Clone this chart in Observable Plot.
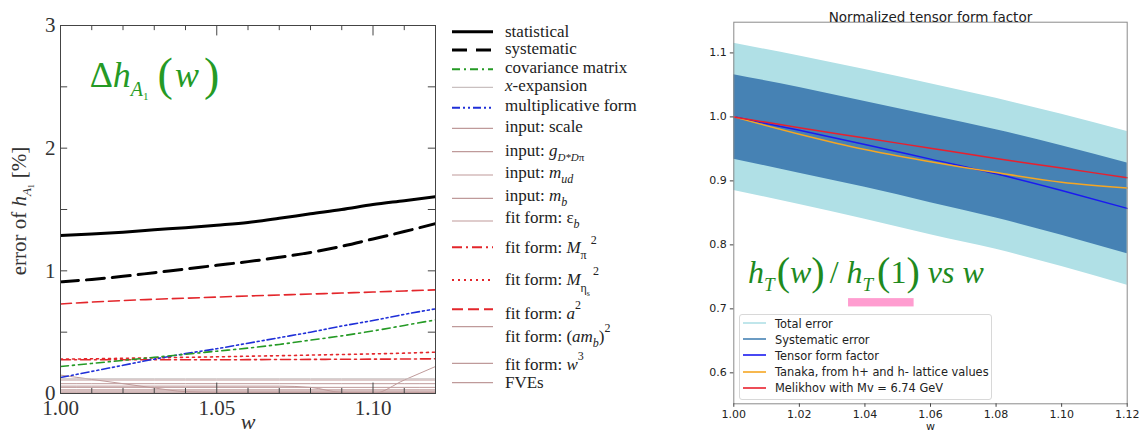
<!DOCTYPE html>
<html><head><meta charset="utf-8">
<script src="https://cdn.jsdelivr.net/npm/d3@7"></script>
<script src="https://cdn.jsdelivr.net/npm/@observablehq/plot@0.6"></script>
<style>
body{margin:0;background:#fff;}
#wrap{position:relative;width:1146px;height:432px;overflow:hidden;background:#fff;}
.abs{position:absolute;top:0;}
#rlegend{position:absolute;left:739px;top:314px;width:251px;height:83px;border:1px solid #d8d8d8;border-radius:3px;background:rgba(255,255,255,0.85);font-family:'DejaVu Sans',sans-serif;font-size:11.4px;color:#222;}
#rlegend .row{height:16.2px;line-height:16.2px;white-space:nowrap;}
#rlegend .sw{display:inline-block;width:23px;height:0;border-top:2px solid;vertical-align:middle;margin-left:3px;margin-right:9px;position:relative;top:-1px;}
</style></head><body><div id="wrap"></div>
<script>
// ---------- LEFT PANEL DATA ----------
const wLeft = [1.00,1.01,1.02,1.03,1.04,1.05,1.06,1.07,1.08,1.09,1.10,1.11,1.12];
const statistical      = [1.288,1.300,1.315,1.334,1.352,1.372,1.394,1.428,1.465,1.500,1.540,1.572,1.605];
const systematic       = [0.910,0.930,0.955,0.985,1.015,1.045,1.075,1.110,1.150,1.200,1.260,1.320,1.385];
const covarianceMatrix = [0.220,0.245,0.270,0.295,0.320,0.345,0.370,0.400,0.435,0.470,0.510,0.555,0.600];
const xExpansion       = [0.120,0.120,0.120,0.120,0.120,0.120,0.120,0.120,0.120,0.120,0.120,0.120,0.120];
const multiplicative   = [0.130,0.180,0.230,0.280,0.325,0.365,0.410,0.455,0.500,0.550,0.595,0.645,0.690];
const inputScale       = [0.110,0.110,0.110,0.110,0.110,0.110,0.110,0.110,0.110,0.110,0.110,0.110,0.110];
const inputG           = [0.030,0.030,0.030,0.030,0.030,0.030,0.030,0.030,0.030,0.030,0.030,0.030,0.030];
const inputMud         = [0.020,0.020,0.020,0.020,0.020,0.020,0.020,0.020,0.020,0.020,0.020,0.020,0.020];
const inputMb          = [0.050,0.050,0.050,0.050,0.050,0.050,0.050,0.050,0.050,0.050,0.050,0.050,0.050];
const fitEpsB          = [0.080,0.080,0.080,0.080,0.080,0.080,0.080,0.080,0.080,0.080,0.080,0.080,0.080];
const fitMpi2          = [0.275,0.275,0.275,0.275,0.275,0.275,0.276,0.277,0.278,0.279,0.280,0.281,0.283];
const fitMetas2        = [0.280,0.283,0.287,0.291,0.295,0.299,0.304,0.308,0.313,0.318,0.323,0.329,0.337];
const fitA2            = [0.730,0.745,0.758,0.768,0.777,0.786,0.795,0.803,0.811,0.819,0.827,0.836,0.845];
const fitAmb2          = [0.150,0.115,0.080,0.045,0.015,0.010,0.010,0.010,0.010,0.010,0.010,0.010,0.010];
const fitW3            = [0.010,0.010,0.010,0.010,0.010,0.010,0.010,0.010,0.010,0.010,0.000,0.110,0.220];
const fves             = [0.060,0.060,0.060,0.060,0.060,0.060,0.060,0.060,0.050,0.010,0.010,0.010,0.010];

const leftKeys = ["statistical","systematic","covarianceMatrix","xExpansion","multiplicative","inputScale","inputG","inputMud","inputMb","fitEpsB","fitMpi2","fitMetas2","fitA2","fitAmb2","fitW3","fves"];
const leftValues = {statistical, systematic, covarianceMatrix, xExpansion, multiplicative, inputScale, inputG, inputMud, inputMb, fitEpsB, fitMpi2, fitMetas2, fitA2, fitAmb2, fitW3, fves};

const xLabelsLeft = [1.00, 1.05, 1.10];
const xMinorLeft = [1.01,1.02,1.03,1.04,1.06,1.07,1.08,1.09,1.11];
const yLabelsLeft = [0, 1, 2, 3];
const yTicksLeft = [0.5, 1, 1.5, 2, 2.5];

// ---------- RIGHT PANEL DATA ----------
const wRight   = [1.00,1.02,1.04,1.06,1.08,1.10,1.12];
const totalHi  = [1.115,1.095,1.074,1.052,1.029,1.004,0.977];
const totalLo  = [0.885,0.863,0.840,0.816,0.793,0.766,0.737];
const sysHi    = [1.066,1.046,1.024,1.002,0.980,0.955,0.928];
const sysLo    = [0.934,0.912,0.890,0.866,0.842,0.815,0.786];
const tensorFF = [1.000,0.979,0.957,0.934,0.911,0.885,0.857];
const tanaka   = [1.000,0.973,0.949,0.930,0.913,0.898,0.889];
const melikhov = [1.000,0.983,0.967,0.951,0.935,0.920,0.905];
const xTicksRight = [1.00,1.02,1.04,1.06,1.08,1.10,1.12];
const yTicksRight = [0.6,0.7,0.8,0.9,1.0,1.1];
const highlightW = [1.035, 1.055];
const highlightH = [0.703, 0.716];
const rightLegendLabels = ["Total error","Systematic error","Tensor form factor","Tanaka, from h+ and h- lattice values","Melikhov with Mv = 6.74 GeV"];

// ---------- styles ----------
const RED = "#e3262b", GREEN = "#259a25", BLUE = "#1f2fd8", BROWN = "#bf9a9a", GREY = "#c9c0c0";
const leftStyles = {
  statistical:{stroke:"#000", w:3, dash:null},
  systematic:{stroke:"#000", w:3, dash:"18,8"},
  covarianceMatrix:{stroke:GREEN, w:1.6, dash:"8,4,2,4"},
  xExpansion:{stroke:GREY, w:1, dash:null},
  multiplicative:{stroke:BLUE, w:1.6, dash:"8,3,2,3,2,3"},
  inputScale:{stroke:BROWN, w:1, dash:null},
  inputG:{stroke:BROWN, w:1, dash:null},
  inputMud:{stroke:BROWN, w:1, dash:null},
  inputMb:{stroke:BROWN, w:1, dash:null},
  fitEpsB:{stroke:BROWN, w:1, dash:null},
  fitMpi2:{stroke:RED, w:1.6, dash:"10,4,2,4"},
  fitMetas2:{stroke:RED, w:1.6, dash:"2,4"},
  fitA2:{stroke:RED, w:1.6, dash:"11,5"},
  fitAmb2:{stroke:BROWN, w:1, dash:null},
  fitW3:{stroke:BROWN, w:1, dash:null},
  fves:{stroke:BROWN, w:1, dash:null}
};
const legendDash = {systematic:"15,9"};

const I = s => `<tspan font-style="italic">${s}</tspan>`;
const SUB = (s, fs=11, sh=-4) => `<tspan baseline-shift="${sh}" font-size="${fs}">${s}</tspan>`;
const SUP = (s, fs=11, sh=8) => `<tspan baseline-shift="${sh}" font-size="${fs}">${s}</tspan>`;
const leftLabels = [
  "statistical",
  "systematic",
  "covariance matrix",
  I("x") + "-expansion",
  "multiplicative form",
  "input: scale",
  "input: " + I("g") + SUB(I("D*D") + "π", 11, -5),
  "input: " + I("m") + SUB(I("ud"), 12, -5),
  "input: " + I("m") + SUB(I("b"), 12, -5),
  "fit form: ε" + SUB(I("b"), 12, -5),
  "fit form: " + I("M") + SUB("π", 12, -6) + `<tspan dx="4" baseline-shift="9" font-size="12">2</tspan>`,
  "fit form: " + I("M") + SUB("η", 12, -7) + SUB("s", 8, -11) + `<tspan dx="3" baseline-shift="10" font-size="12">2</tspan>`,
  "fit form: " + I("a") + SUP("2", 12, 10),
  "fit form: (" + I("am") + SUB(I("b"), 12, -5) + ")" + SUP("2", 12, 10),
  "fit form: " + I("w") + SUP("3", 12, 10),
  "FVEs"
];
const legendLineY = [31.7,50,69.3,87.3,107.7,128.3,151.7,175,198.3,221,247.3,280,309.3,326.7,363.3,382.7];
const legendTextY = [37.3,54.3,73.3,90.7,110.7,132.3,155.7,178.3,200.5,223.3,252.7,285,319,342.3,370,388.3];

// ---------- LEFT PLOT ----------
const leftData = leftKeys.flatMap(k => leftValues[k].map((v, i) => ({w: wLeft[i], v, k})));
const drawOrder = leftKeys.slice().reverse();
const leftLines = drawOrder.map(k => {
  const s = leftStyles[k];
  return Plot.line(leftData.filter(d => d.k === k), {x:"w", y:"v", stroke:s.stroke, strokeWidth:s.w, strokeDasharray:s.dash, curve:"monotone-x", clip:true});
});
const TK = "#444";
const left = Plot.plot({
  width:450, height:432, marginLeft:60, marginRight:15, marginTop:25, marginBottom:39,
  x:{domain:[1.00,1.12]}, y:{domain:[0,3]},
  style:{fontFamily:"'Liberation Serif', serif", fontSize:"20px", color:"#333", background:"transparent", overflow:"visible"},
  marks:[
    ...leftLines,
    Plot.ruleX(xMinorLeft, {x:d=>d, y1:0, y2:0.042, stroke:TK}),
    Plot.ruleX(xLabelsLeft, {x:d=>d, y1:0, y2:0.085, stroke:TK}),
    Plot.ruleX(xMinorLeft, {x:d=>d, y1:3, y2:2.958, stroke:TK}),
    Plot.ruleX(xLabelsLeft, {x:d=>d, y1:3, y2:2.915, stroke:TK}),
    Plot.ruleY(yTicksLeft, {y:d=>d, x1:1.00, x2:1.0023, stroke:TK}),
    Plot.ruleY(yTicksLeft, {y:d=>d, x1:1.12, x2:1.1177, stroke:TK}),
    Plot.frame({stroke:TK}),
    Plot.axisX({ticks:xLabelsLeft, tickFormat:d3.format(".2f"), tickSize:0, tickPadding:7, label:null, fontSize:21}),
    Plot.axisY({ticks:yLabelsLeft, tickFormat:d3.format("d"), tickSize:0, tickPadding:5, label:null, fontSize:21}),
    Plot.text(["w"], {frameAnchor:"bottom", dy:35, fontStyle:"italic", fontSize:22})
  ]
});
{
  const sx = left.scale("x"), sy = left.scale("y");
  const g = d3.select(left).append("g").attr("font-family","'Liberation Serif', serif").attr("text-anchor","start");
  g.append("text").attr("x", sx.apply(1.0095)).attr("y", sy.apply(2.494))
    .attr("font-size", 36).attr("fill", GREEN)
    .html("Δ" + I("h") + `<tspan baseline-shift="-9" font-size="20" font-style="italic">A</tspan><tspan baseline-shift="-13" font-size="11">1</tspan><tspan font-size="46" dx="9" baseline-shift="-3">(</tspan><tspan font-style="italic" dx="2">w</tspan><tspan font-size="46" dx="5" baseline-shift="-3">)</tspan>`);
  g.append("text").attr("transform", "translate(26,211) rotate(-90)").attr("text-anchor","middle")
    .attr("font-size", 21).attr("fill", "#333")
    .html("error of " + I("h") + `<tspan baseline-shift="-5" font-size="13" font-style="italic">A</tspan><tspan baseline-shift="-8" font-size="8">1</tspan><tspan dx="6">[%]</tspan>`);
}

// ---------- LEFT LEGEND ----------
const leg = d3.create("svg").attr("width", 250).attr("height", 432)
  .attr("font-family","'Liberation Serif', serif").attr("font-size", 17).attr("fill","#222");
leftKeys.forEach((k, i) => {
  const s = leftStyles[k];
  leg.append("line").attr("x1", 12).attr("x2", 53).attr("y1", legendLineY[i]).attr("y2", legendLineY[i])
    .attr("stroke", s.stroke).attr("stroke-width", s.w === 1 ? 1.2 : (s.w === 3 ? 3 : 2)).attr("stroke-dasharray", legendDash[k] || s.dash);
  leg.append("text").attr("x", 65).attr("y", legendTextY[i]).html(leftLabels[i]);
});

// ---------- RIGHT PLOT ----------
const rightData = wRight.map((w, i) => ({w, totalHi: totalHi[i], totalLo: totalLo[i], sysHi: sysHi[i], sysLo: sysLo[i], tensor: tensorFF[i], tanaka: tanaka[i], melikhov: melikhov[i]}));
const RCOL = {total:"#b0e0e6", sys:"#4682b4", tensor:"#1a1af0", tanaka:"#f5a623", melikhov:"#e8202e"};
const right = Plot.plot({
  width:456, height:432, marginLeft:43.3, marginRight:19.3, marginTop:21.7, marginBottom:28.7,
  x:{domain:[1.00,1.12]}, y:{domain:[0.5516,1.148]},
  style:{fontFamily:"'DejaVu Sans', sans-serif", fontSize:"11px", color:"#222", background:"transparent", overflow:"visible"},
  marks:[
    Plot.areaY(rightData, {x:"w", y1:"totalLo", y2:"totalHi", fill:RCOL.total, curve:"monotone-x"}),
    Plot.areaY(rightData, {x:"w", y1:"sysLo", y2:"sysHi", fill:RCOL.sys, curve:"monotone-x"}),
    Plot.line(rightData, {x:"w", y:"tensor", stroke:RCOL.tensor, strokeWidth:1.5, curve:"monotone-x"}),
    Plot.line(rightData, {x:"w", y:"tanaka", stroke:RCOL.tanaka, strokeWidth:1.5, curve:"monotone-x"}),
    Plot.line(rightData, {x:"w", y:"melikhov", stroke:RCOL.melikhov, strokeWidth:1.5, curve:"monotone-x"}),
    Plot.rect([0], {x1:highlightW[0], x2:highlightW[1], y1:highlightH[0], y2:highlightH[1], fill:"#ff9dd0"}),
    Plot.frame({stroke:"#8a8a8a"}),
    Plot.axisX({ticks:xTicksRight, tickFormat:d3.format(".2f"), tickSize:3.5, tickPadding:2.5, label:null, stroke:"#444"}),
    Plot.axisY({ticks:yTicksRight, tickFormat:d3.format(".1f"), tickSize:3.5, tickPadding:3.5, label:null, stroke:"#444"}),
    Plot.text(["Normalized tensor form factor"], {frameAnchor:"top", dy:-10, fontSize:13.5}),
    Plot.text(["w"], {frameAnchor:"bottom", dy:26, fontSize:11})
  ]
});
{
  const sx = right.scale("x"), sy = right.scale("y");
  d3.select(right).append("text").attr("x", sx.apply(1.0045)).attr("y", sy.apply(0.740)).attr("text-anchor","start")
    .attr("font-family","'Liberation Serif', serif").attr("font-size", 32).attr("fill", "#1e8a1e")
    .html(I("h") + `<tspan baseline-shift="-8" font-size="19" font-style="italic">T</tspan><tspan font-size="40" dx="2" baseline-shift="-2">(</tspan>` + I("w") + `<tspan font-size="40" baseline-shift="-2">)</tspan><tspan dx="5">/</tspan><tspan dx="8" font-style="italic">h</tspan><tspan baseline-shift="-8" font-size="19" font-style="italic">T</tspan><tspan font-size="40" dx="4" baseline-shift="-2">(</tspan>1<tspan font-size="40" baseline-shift="-2">)</tspan><tspan dx="8" font-style="italic">vs w</tspan>`);
}

// ---------- assemble ----------
const wrap = document.getElementById("wrap");
left.classList.add("abs"); left.style.left = "0px";
const legNode = leg.node(); legNode.classList.add("abs"); legNode.style.left = "440px";
right.classList.add("abs"); right.style.left = "690px";
wrap.appendChild(left); wrap.appendChild(legNode); wrap.appendChild(right);

const rl = document.createElement("div"); rl.id = "rlegend";
const rcols = [RCOL.total, RCOL.sys, RCOL.tensor, RCOL.tanaka, RCOL.melikhov];
rightLegendLabels.forEach((t, i) => {
  const row = document.createElement("div"); row.className = "row";
  const sw = document.createElement("span"); sw.className = "sw"; sw.style.borderTopColor = rcols[i]; sw.style.opacity = 0.8;
  row.appendChild(sw); row.appendChild(document.createTextNode(t));
  rl.appendChild(row);
});
rl.style.paddingTop = "0.5px";
wrap.appendChild(rl);
</script>
</body></html>
